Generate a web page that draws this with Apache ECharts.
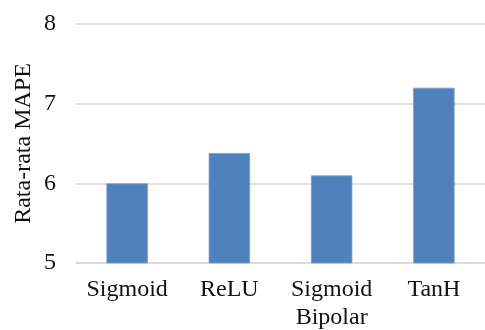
<!DOCTYPE html>
<html>
<head>
<meta charset="utf-8">
<script src="https://cdn.jsdelivr.net/npm/echarts@6/dist/echarts.min.js"></script>
<style>
  html, body { margin: 0; padding: 0; background: #fff; }
  #chart { width: 485px; height: 330px; }
</style>
</head>
<body>
<div id="chart"></div>
<script>
// Average MAPE per activation function
const categories = ['Sigmoid', 'ReLU', 'Sigmoid\nBipolar', 'TanH'];
const mapeValues = [6.0, 6.38, 6.1, 7.2];
const yTicks = [5, 6, 7, 8];

const FONT = '"Liberation Serif", "Times New Roman", serif';

const chart = echarts.init(document.getElementById('chart'), null, { renderer: 'canvas' });
chart.setOption({
  animation: false,
  grid: { left: 76, right: 0, top: 24, bottom: 67, containLabel: false, outerBoundsMode: 'none' },
  xAxis: {
    type: 'category',
    data: categories,
    axisTick: { show: false },
    axisLine: { show: true, lineStyle: { color: '#d9d9d9', width: 1.5 } },
    axisLabel: {
      color: '#111',
      fontFamily: FONT,
      fontSize: 24,
      lineHeight: 28,
      margin: 13,
      interval: 0
    }
  },
  yAxis: {
    type: 'value',
    min: yTicks[0],
    max: yTicks[yTicks.length - 1],
    interval: 1,
    name: 'Rata-rata MAPE',
    nameLocation: 'middle',
    nameGap: 40,
    nameMoveOverlap: false,
    nameTextStyle: { color: '#111', fontFamily: FONT, fontSize: 24 },
    axisLine: { show: false },
    axisTick: { show: false },
    axisLabel: { color: '#111', fontFamily: FONT, fontSize: 24, margin: 20 },
    splitLine: { lineStyle: { color: '#d9d9d9', width: 1.5 } }
  },
  series: [{
    type: 'bar',
    data: mapeValues,
    barWidth: '40.5%',
    itemStyle: { color: '#4f81bd', borderColor: '#7aa0d0', borderWidth: 0.8 }
  }]
});
</script>
</body>
</html>
